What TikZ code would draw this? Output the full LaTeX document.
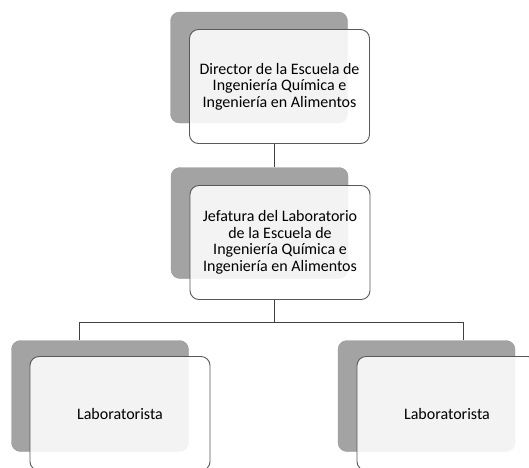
\documentclass[tikz,border=0pt]{standalone}
\usepackage{fontspec}
\setmainfont{Carlito}
\usetikzlibrary{positioning}

\tikzset{
  backbox/.style={draw=gray!80, fill=gray!72, rounded corners=9pt,
    minimum width=177pt, minimum height=111pt, inner sep=0pt},
  frontbox/.style={draw=black!65, line width=0.9pt, fill=white, fill opacity=0.88,
    text opacity=1, rounded corners=9pt, minimum width=180pt, minimum height=114pt,
    inner sep=0pt, align=center, font=\fontsize{16}{16.6}\selectfont},
  link/.style={draw=black!75, line width=0.7pt}
}

\begin{document}
\begin{tikzpicture}[x=1pt, y=-1pt]
  \clip (0,0) rectangle (529,467);

  % nivel 1
  \node[backbox] (dirB) at (259,67.5) {};
  \node[frontbox] (dir) at (279.5,86.5)
    {Director de la Escuela de\\Ingeniería Química e\\Ingeniería en Alimentos};

  % nivel 2
  \node[backbox] (jefB) at (259.5,223) {};
  \node[frontbox] (jef) at (280,242.5)
    {Jefatura del Laboratorio\\de la Escuela de\\Ingeniería Química e\\Ingeniería en Alimentos};

  % nivel 3
  \node[backbox] (labaB) at (100,396) {};
  \node[frontbox] (laba) at (120,413.5) {Laboratorista};
  \node[backbox] (labbB) at (426.5,396) {};
  \node[frontbox] (labb) at (447,413.5) {Laboratorista};

  % conectores
  \coordinate (bus) at (274,322);
  \draw[link] (dir.south -| bus) -- (jefB.north -| bus);
  \draw[link] (jef.south -| bus) -- (bus);
  \draw[link] (79,322 |- labaB.north) |- (bus) -| (463,322 |- labbB.north);
\end{tikzpicture}
\end{document}
